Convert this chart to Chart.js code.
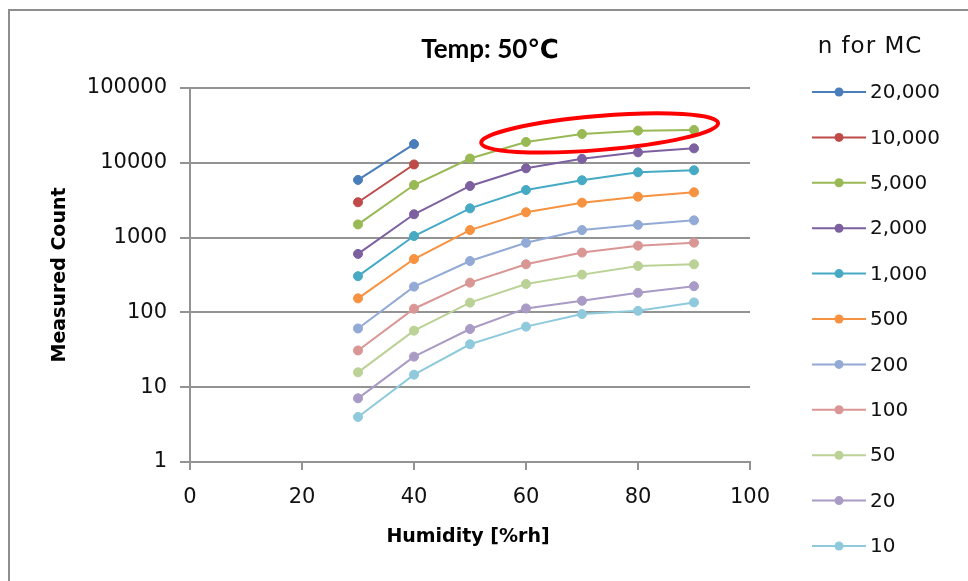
<!DOCTYPE html>
<html>
<head>
<meta charset="utf-8">
<title>Measured Count vs Humidity</title>
<script src="https://cdn.jsdelivr.net/npm/chart.js@4/dist/chart.umd.min.js"></script>
<style>
    html, body { margin: 0; padding: 0; background: #ffffff; }
    #wrap { width: 968px; height: 581px; position: relative; }
</style>
</head>
<body>
<div id="wrap"><canvas id="mc-chart" width="968" height="581"></canvas></div>
<script>
// Humidity steps shared by every series
const humidity = [30, 40, 50, 60, 70, 80, 90];

// Monte Carlo sample sizes (legend order) and their line colours
const nLabels = ['20,000', '10,000', '5,000', '2,000', '1,000', '500', '200', '100', '50', '20', '10'];
const seriesColors = ['#4A7EBB', '#BE4B48', '#98B954', '#7D60A0', '#46AAC5', '#F69240',
                      '#93AAD6', '#D99694', '#BBD296', '#AA9BC6', '#8FCADC'];

// Measured counts per sample size
const count20000 = [5900, 17800];
const count10000 = [2970, 9500];
const count5000 = [1500, 5050, 11400, 19000, 24300, 26900, 27500];
const count2000 = [605, 2050, 4900, 8440, 11300, 13800, 15600];
const count1000 = [305, 1050, 2460, 4330, 5840, 7460, 7940];
const count500 = [154, 517, 1260, 2180, 2930, 3520, 4030];
const count200 = [61, 221, 487, 853, 1260, 1480, 1700];
const count100 = [31, 112, 250, 440, 630, 780, 855];
const count50 = [15.8, 57, 135, 240, 320, 417, 440];
const count20 = [7.1, 25.6, 60, 113, 143, 183, 224];
const count10 = [4.0, 14.7, 37.5, 64.5, 95, 105, 136];

const allCounts = [count20000, count10000, count5000, count2000, count1000, count500,
                   count200, count100, count50, count20, count10];

// Axis ticks
const xTicks = [0, 20, 40, 60, 80, 100];
const yTicks = [1, 10, 100, 1000, 10000, 100000];

// Red highlight ring around the saturating 5,000 curve (ends given in data units)
const highlight = { x1: 52.0, y1: 18500, x2: 94.3, y2: 34000, minorRadius: 17, color: '#FF0000', width: 4 };

const TEXT = '#111111';
const GRID = '#939393';
const TICK_FONT = { family: '"DejaVu Sans", Verdana, sans-serif', size: 21 };

const datasets = allCounts.map((counts, i) => ({
    label: nLabels[i],
    data: counts.map((c, j) => ({ x: humidity[j], y: c })),
    borderColor: seriesColors[i],
    backgroundColor: seriesColors[i],
    borderWidth: 2,
    pointRadius: 4.5,
    pointBorderWidth: 1,
    pointHoverRadius: 4.5,
    tension: 0
}));

// White card with the grey frame along top and left
const framePlugin = {
    id: 'frame',
    beforeDraw(chart) {
        const ctx = chart.ctx;
        ctx.save();
        ctx.fillStyle = '#ffffff';
        ctx.fillRect(0, 0, chart.width, chart.height);
        ctx.strokeStyle = '#8E8E8E';
        ctx.lineWidth = 2;
        ctx.beginPath();
        ctx.moveTo(9, chart.height);
        ctx.lineTo(9, 10);
        ctx.lineTo(chart.width, 10);
        ctx.stroke();
        ctx.restore();
    }
};

// Chart title and the two axis titles
const titlesPlugin = {
    id: 'titles',
    afterDraw(chart) {
        const ctx = chart.ctx;
        const area = chart.chartArea;
        ctx.save();
        ctx.fillStyle = '#000000';
        ctx.textAlign = 'center';
        ctx.textBaseline = 'middle';
        ctx.font = 'bold 26px Lato, "DejaVu Sans", sans-serif';
        ctx.fillText('Temp: 50℃', 490, 50);

        ctx.font = 'bold 19px "DejaVu Sans", Verdana, sans-serif';
        ctx.fillText('Humidity [%rh]', 468, 537);

        ctx.translate(60, (area.top + area.bottom) / 2);
        ctx.rotate(-Math.PI / 2);
        ctx.fillText('Measured Count', 0, 0);
        ctx.restore();
    }
};

// Legend on the right: line with a dot, then the sample size
const legendPlugin = {
    id: 'sideLegend',
    afterDraw(chart) {
        const ctx = chart.ctx;
        ctx.save();
        ctx.fillStyle = TEXT;
        ctx.textBaseline = 'middle';
        ctx.textAlign = 'center';
        ctx.font = '23px "DejaVu Sans", Verdana, sans-serif';
        ctx.letterSpacing = '1px';
        ctx.fillText('n for MC', 870, 47);
        ctx.letterSpacing = '0px';

        ctx.textAlign = 'left';
        ctx.font = '20px "DejaVu Sans", Verdana, sans-serif';
        chart.data.datasets.forEach((ds, i) => {
            const y = 92 + i * 45.4;
            ctx.strokeStyle = ds.borderColor;
            ctx.lineWidth = 2;
            ctx.beginPath();
            ctx.moveTo(812, y);
            ctx.lineTo(866, y);
            ctx.stroke();
            ctx.fillStyle = ds.borderColor;
            ctx.beginPath();
            ctx.arc(839, y, 4.5, 0, Math.PI * 2);
            ctx.fill();
            ctx.fillStyle = TEXT;
            ctx.fillText(ds.label, 870, y + 1);
        });
        ctx.restore();
    }
};

// Tilted ellipse placed through the x / y scales
const highlightPlugin = {
    id: 'highlight',
    afterDatasetsDraw(chart) {
        const xs = chart.scales.x;
        const ys = chart.scales.y;
        const ax = xs.getPixelForValue(highlight.x1);
        const ay = ys.getPixelForValue(highlight.y1);
        const bx = xs.getPixelForValue(highlight.x2);
        const by = ys.getPixelForValue(highlight.y2);
        const cx = (ax + bx) / 2;
        const cy = (ay + by) / 2;
        const rx = Math.hypot(bx - ax, by - ay) / 2;
        const angle = Math.atan2(by - ay, bx - ax);
        const ctx = chart.ctx;
        ctx.save();
        ctx.strokeStyle = highlight.color;
        ctx.lineWidth = highlight.width;
        ctx.beginPath();
        ctx.ellipse(cx, cy, rx, highlight.minorRadius, angle, 0, Math.PI * 2);
        ctx.stroke();
        ctx.restore();
    }
};

const ctx = document.getElementById('mc-chart').getContext('2d');
new Chart(ctx, {
    type: 'line',
    data: { datasets: datasets },
    options: {
        responsive: false,
        animation: false,
        devicePixelRatio: 1,
        layout: { padding: { top: 88, right: 218, bottom: 0, left: 0 } },
        plugins: {
            legend: { display: false },
            title: { display: false },
            tooltip: { enabled: false }
        },
        scales: {
            x: {
                type: 'linear',
                min: 0,
                max: 100,
                afterBuildTicks: scale => { scale.ticks = xTicks.map(v => ({ value: v })); },
                afterFit: scale => { scale.height = 119; },
                ticks: { color: TEXT, font: TICK_FONT, padding: 15, maxRotation: 0 },
                grid: { drawOnChartArea: false, drawTicks: true, tickLength: 8, color: GRID, lineWidth: 2 },
                border: { color: GRID, width: 2 }
            },
            y: {
                type: 'logarithmic',
                min: 1,
                max: 100000,
                afterBuildTicks: scale => { scale.ticks = yTicks.map(v => ({ value: v })); },
                afterFit: scale => { scale.width = 190; },
                ticks: {
                    color: TEXT,
                    font: TICK_FONT,
                    padding: 13,
                    callback: v => String(v)
                },
                grid: { color: GRID, lineWidth: 2, tickLength: 10 },
                border: { color: GRID, width: 2 }
            }
        }
    },
    plugins: [framePlugin, titlesPlugin, legendPlugin, highlightPlugin]
});
</script>
</body>
</html>
